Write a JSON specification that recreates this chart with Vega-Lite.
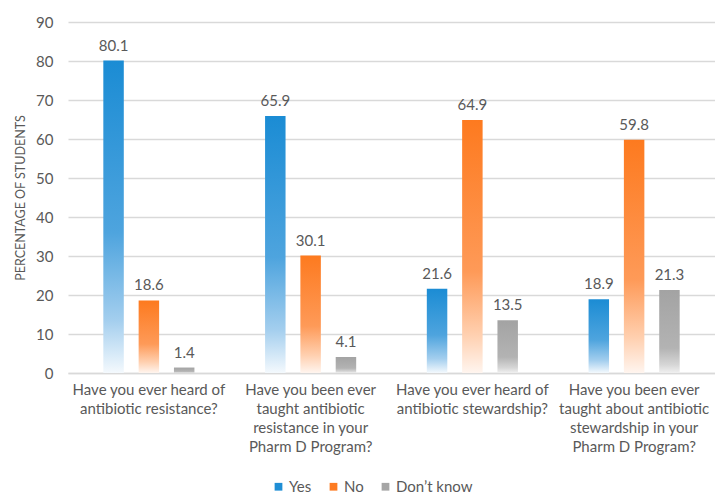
{
  "$schema": "https://vega.github.io/schema/vega-lite/v6.json",
  "width": 647,
  "height": 351,
  "autosize": "none",
  "padding": {"left": 68, "top": 22, "right": 0, "bottom": 124},
  "background": "white",
  "config": {"view": {"stroke": null}, "font": "Lato"},
  "data": {
    "values": [
      {"question": "Have you ever heard of|antibiotic resistance?", "response": "Yes", "pct": 80.1},
      {"question": "Have you ever heard of|antibiotic resistance?", "response": "No", "pct": 18.6},
      {"question": "Have you ever heard of|antibiotic resistance?", "response": "Don’t know", "pct": 1.4},
      {"question": "Have you been ever|taught antibiotic|resistance in your|Pharm D Program?", "response": "Yes", "pct": 65.9},
      {"question": "Have you been ever|taught antibiotic|resistance in your|Pharm D Program?", "response": "No", "pct": 30.1},
      {"question": "Have you been ever|taught antibiotic|resistance in your|Pharm D Program?", "response": "Don’t know", "pct": 4.1},
      {"question": "Have you ever heard of|antibiotic stewardship?", "response": "Yes", "pct": 21.6},
      {"question": "Have you ever heard of|antibiotic stewardship?", "response": "No", "pct": 64.9},
      {"question": "Have you ever heard of|antibiotic stewardship?", "response": "Don’t know", "pct": 13.5},
      {"question": "Have you been ever|taught about antibiotic|stewardship in your|Pharm D Program?", "response": "Yes", "pct": 18.9},
      {"question": "Have you been ever|taught about antibiotic|stewardship in your|Pharm D Program?", "response": "No", "pct": 59.8},
      {"question": "Have you been ever|taught about antibiotic|stewardship in your|Pharm D Program?", "response": "Don’t know", "pct": 21.3}
    ]
  },
  "encoding": {
    "x": {
      "field": "question",
      "type": "nominal",
      "sort": null,
      "scale": {"paddingInner": 0, "paddingOuter": 0},
      "axis": {
        "title": null,
        "labelAngle": 0,
        "labelExpr": "split(datum.value, '|')",
        "labelColor": "#595959",
        "labelFont": "Lato",
        "labelFontSize": 15,
        "labelLineHeight": 19,
        "labelPadding": 9,
        "labelBaseline": "top",
        "labelLimit": 0,
        "ticks": false,
        "domain": true,
        "domainColor": "#d9d9d9",
        "domainWidth": 1.5
      }
    },
    "xOffset": {
      "field": "response",
      "sort": ["Yes", "No", "Don’t know"],
      "scale": {"paddingInner": 0.42, "paddingOuter": 1.04}
    },
    "y": {
      "field": "pct",
      "type": "quantitative",
      "scale": {"domain": [0, 90], "nice": false},
      "axis": {
        "values": [0, 10, 20, 30, 40, 50, 60, 70, 80, 90],
        "grid": true,
        "gridColor": "#d9d9d9",
        "gridWidth": 1.5,
        "domain": false,
        "ticks": false,
        "labelPadding": 15,
        "labelColor": "#595959",
        "labelFont": "Lato",
        "labelFontSize": 15,
        "title": "PERCENTAGE OF STUDENTS",
        "titleFont": "Lato",
        "titleFontSize": 12.5,
        "titleFontWeight": "normal",
        "titleColor": "#595959",
        "titlePadding": 8
      }
    }
  },
  "layer": [
    {
      "mark": {"type": "bar", "opacity": 0},
      "encoding": {
        "color": {
          "field": "response",
          "type": "nominal",
          "sort": ["Yes", "No", "Don’t know"],
          "scale": {"domain": ["Yes", "No", "Don’t know"], "range": ["#1f8ed5", "#fd7b22", "#a5a5a5"]},
          "legend": {
            "title": null,
            "orient": "none",
            "legendX": 203,
            "legendY": 457,
            "direction": "horizontal",
            "symbolType": "square",
            "symbolSize": 60,
            "symbolOpacity": 1,
            "symbolStrokeWidth": 0,
            "labelFont": "Lato",
            "labelFontSize": 15,
            "labelColor": "#595959",
            "columnPadding": 14,
            "labelOffset": 3
          }
        }
      }
    },
    {
      "transform": [{"filter": "datum.response === 'Yes'"}],
      "mark": {
        "type": "bar",
        "fill": {
          "gradient": "linear", "x1": 0, "y1": 0, "x2": 0, "y2": 1,
          "stops": [
            {"offset": 0, "color": "#1b8cd4"},
            {"offset": 0.55, "color": "#4ea4de"},
            {"offset": 0.83, "color": "#a3ceee"},
            {"offset": 1, "color": "#f4f9fd"}
          ]
        }
      }
    },
    {
      "transform": [{"filter": "datum.response === 'No'"}],
      "mark": {
        "type": "bar",
        "fill": {
          "gradient": "linear", "x1": 0, "y1": 0, "x2": 0, "y2": 1,
          "stops": [
            {"offset": 0, "color": "#fd7a1f"},
            {"offset": 0.6, "color": "#fe9a58"},
            {"offset": 0.85, "color": "#ffd0b0"},
            {"offset": 1, "color": "#fff5ef"}
          ]
        }
      }
    },
    {
      "transform": [{"filter": "datum.response === 'Don’t know'"}],
      "mark": {
        "type": "bar",
        "fill": {
          "gradient": "linear", "x1": 0, "y1": 0, "x2": 0, "y2": 1,
          "stops": [
            {"offset": 0, "color": "#a3a3a3"},
            {"offset": 0.7, "color": "#b3b3b3"},
            {"offset": 0.9, "color": "#d6d6d6"},
            {"offset": 1, "color": "#f0f0f0"}
          ]
        }
      }
    },
    {
      "mark": {"type": "text", "baseline": "bottom", "dy": -7, "font": "Lato", "fontSize": 15, "color": "#595959"},
      "encoding": {"text": {"field": "pct", "type": "quantitative", "format": ".1f"}}
    }
  ]
}
